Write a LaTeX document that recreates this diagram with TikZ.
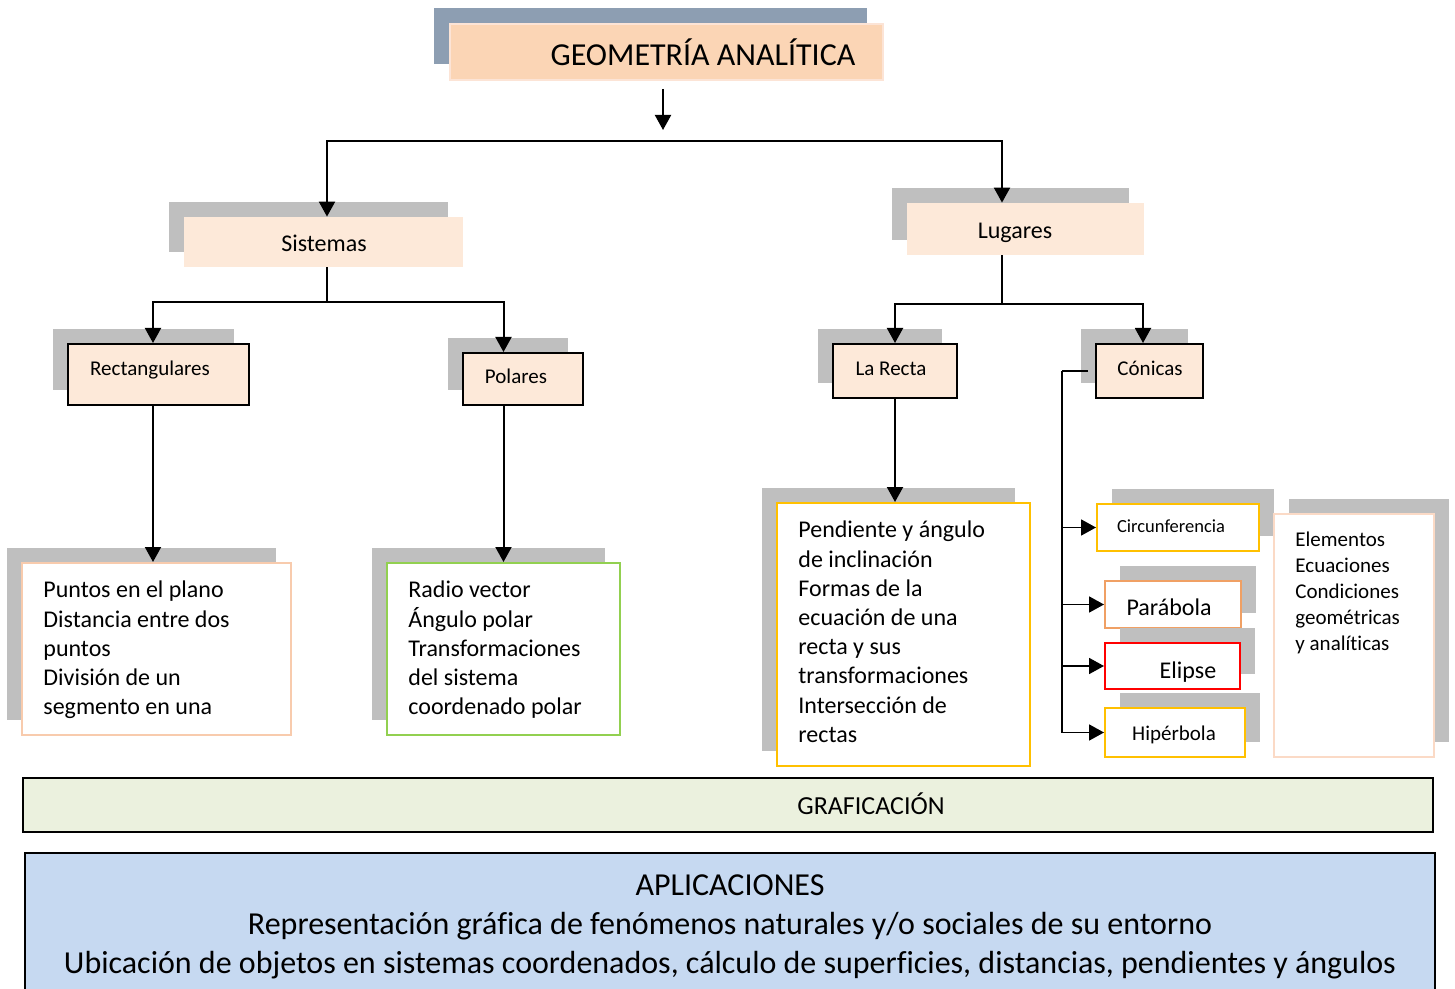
\documentclass[tikz,border=0pt]{standalone}
\usepackage{fontspec}
\setmainfont{Carlito}[Ligatures=CommonOff]
\usetikzlibrary{arrows.meta,calc,shadows}
\definecolor{shgray}{RGB}{191,191,191}
\definecolor{slate}{RGB}{141,158,178}
\definecolor{peachD}{RGB}{251,213,181}
\definecolor{peachL}{RGB}{253,233,217}
\definecolor{peachB}{RGB}{252,228,214}
\definecolor{orangeB}{RGB}{248,203,173}
\definecolor{greenB}{RGB}{146,208,80}
\definecolor{goldB}{RGB}{255,192,0}
\definecolor{paraB}{RGB}{240,160,100}
\definecolor{elemB}{RGB}{251,218,198}
\definecolor{grafF}{RGB}{235,241,222}
\definecolor{aplF}{RGB}{198,217,241}
\newcommand\myfs[2]{\fontsize{#1}{#2}\selectfont}
\begin{document}
\begin{tikzpicture}[x=0.5pt,y=-0.5pt,
  sz/.style 2 args={rectangle, inner sep=0pt, minimum width=#1*0.5pt, minimum height=#2*0.5pt},
  shL/.style={general shadow={fill=shgray, shadow xshift=-7.5pt, shadow yshift=7.5pt}},
  shR/.style={general shadow={fill=shgray, shadow xshift=7.5pt, shadow yshift=7.5pt}},
  shT/.style={general shadow={fill=slate, shadow xshift=-8pt, shadow yshift=8pt}},
  hbox/.style={fill=peachL},
  kbox/.style={fill=peachL, draw=black, line width=1pt},
  wbox/.style={fill=white, draw=#1, line width=1pt},
  txt/.style={inner sep=0pt, anchor=base},
  mtxt/.style={inner sep=0pt, anchor=north west, align=left},
  ln/.style={line width=1pt},
  ln2/.style={line width=0.8pt},
  arr/.style={line width=1pt, -{Triangle[width=8pt,length=7.5pt]}},
  arr2/.style={line width=0.9pt, -{Triangle[width=8pt,length=7.5pt]}}
]
\path[use as bounding box, clip] (0,0) rectangle (1455,989);

% title
\node[shT, sz={433}{56}, fill=peachD, draw=peachB, line width=1pt] (title) at (666.5,52) {};
\node[txt, font=\myfs{16}{19}] (titleT) at (703,66) {GEOMETRÍA ANALÍTICA};

% level 1
\node[shL, sz={279}{50}, hbox] (sist) at (323.5,242) {};
\node[txt, font=\myfs{12}{14.6}] (sistT) at (324,252) {Sistemas};
\node[shL, sz={237}{52}, hbox] (lug) at (1025.5,229) {};
\node[txt, font=\myfs{12}{14.6}] (lugT) at (1015,239) {Lugares};

% level 2
\node[shL, sz={181}{61}, kbox] (rect) at (158.5,374.5) {};
\node[txt, font=\myfs{10.5}{13}] (rectT) at (150,375) {Rectangulares};
\node[shL, sz={120}{52}, kbox] (pol) at (523,379) {};
\node[txt, font=\myfs{10.5}{13}] (polT) at (516,384) {Polares};
\node[shL, sz={124}{54}, kbox] (recta) at (895,371) {};
\node[txt, font=\myfs{10.5}{13}] (rectaT) at (891,375) {La Recta};
\node[shL, sz={107}{54}, kbox] (con) at (1149.5,371) {};
\node[txt, font=\myfs{10.5}{13}] (conT) at (1150,375) {Cónicas};

% level 3
\node[shL, sz={269}{172}, wbox=orangeB] (punt) at (156.5,649) {};
\node[mtxt, font=\myfs{12}{14.6}] (puntT) at (43,577) {\strut Puntos en el plano\\Distancia entre dos\\puntos\\División de un\\segmento en una};
\node[shL, sz={233}{172}, wbox=greenB] (radio) at (503.5,649) {};
\node[mtxt, font=\myfs{12}{14.6}] (radioT) at (408,577) {\strut Radio vector\\Ángulo polar\\Transformaciones\\del sistema\\coordenado polar};
\node[shL, sz={253}{263}, wbox=goldB] (rectaC) at (903.5,634.5) {};
\node[mtxt, font=\myfs{12}{14.6}] (rectaCT) at (798,517) {\strut Pendiente y ángulo\\de inclinación\\Formas de la\\ecuación de una\\recta y sus\\transformaciones\\Intersección de\\rectas};

% conics
\node[shR, sz={162}{47}, wbox=goldB] (circ) at (1178,527.5) {};
\node[txt, font=\myfs{9.25}{11}] (circT) at (1171,532) {Circunferencia};
\node[shR, sz={136}{47}, wbox=paraB] (para) at (1173,604.5) {};
\node[txt, font=\myfs{12}{14.6}] (paraT) at (1169,615) {Parábola};
\node[shR, sz={135}{46}, wbox=red] (elip) at (1172.5,666) {};
\node[txt, font=\myfs{12}{14.6}] (elipT) at (1188,678) {Elipse};
\node[shR, sz={140}{49}, wbox=goldB] (hip) at (1175,732.5) {};
\node[txt, font=\myfs{10.5}{13}] (hipT) at (1174,740) {Hipérbola};
\node[shR, sz={160}{243}, wbox=elemB] (elem) at (1354,635.5) {};
\node[mtxt, font=\myfs{10.5}{13}] (elemT) at (1295,528) {\strut Elementos\\Ecuaciones\\Condiciones\\geométricas\\y analíticas};

% bottom bands
\node[sz={1410}{54}, fill=grafF, draw=black, line width=1pt] (graf) at (728,805) {};
\node[txt, font=\myfs{13}{15.6}] (grafT) at (871,814) {GRAFICACIÓN};
\node[sz={1410}{154}, fill=aplF, draw=black, line width=1pt] (apl) at (730,930) {};
\node[inner sep=0pt, anchor=north, align=center, font=\myfs{16}{19.5}] (aplT) at (730,868) {\strut APLICACIONES\\Representación gráfica de fenómenos naturales y/o sociales de su entorno\\Ubicación de objetos en sistemas coordenados, cálculo de superficies, distancias, pendientes y ángulos};

% connectors
\coordinate (busA) at (663,141);
\draw[arr] ($(title.south)+(-3.5,8)$) -- ($(busA)+(0,-11)$);
\draw[arr] (busA) -| ($(sist.north)+(3.5,0)$);
\draw[arr] (busA) -| ($(lug.north)+(-23.5,0)$);

\coordinate (busB) at (327,302);
\draw[ln] ($(sist.south)+(3.5,0)$) -- (busB);
\draw[arr] (busB) -| ($(rect.north)+(-5.5,0)$);
\draw[arr] (busB) -| (pol.north -| radio.north);
\draw[arr] ($(rect.south)+(-5.5,0)$) -- ($(rect.south |- punt.north)+(-5.5,0)$);
\draw[arr] (pol.south -| radio.north) -- (radio.north);

\coordinate (busC) at (1002,304);
\draw[ln] ($(lug.south)+(-23.5,0)$) -- (busC);
\draw[arr] (busC) -| (recta.north);
\draw[arr] (busC) -| ($(con.north)+(-6.5,0)$);
\draw[arr] (recta.south) -- (recta.south |- rectaC.north);

\coordinate (cbus) at (1062,371);
\draw[ln2] ($(con.west)+(-7,0)$) -- (cbus);
\draw[arr2] (cbus) |- (hip.west);
\draw[arr2] (cbus |- circ.west) -- (circ.west);
\draw[arr2] (cbus |- para.west) -- (para.west);
\draw[arr2] (cbus |- elip.west) -- (elip.west);
\end{tikzpicture}
\end{document}
